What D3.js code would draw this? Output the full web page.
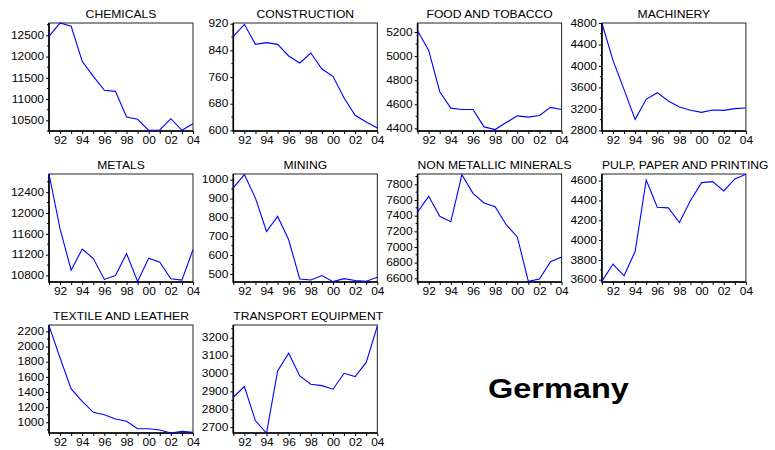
<!DOCTYPE html>
<html>
<head>
<meta charset="utf-8">
<script src="https://cdn.jsdelivr.net/npm/d3@7/dist/d3.min.js"></script>
<style>
  html, body { margin: 0; padding: 0; background: #fff; }
  svg { display: block; }
  text { font-family: "Liberation Sans", Arial, Helvetica, sans-serif; fill: #000; }
</style>
</head>
<body>
<svg id="chart" width="775" height="450"></svg>
<script>
// Years on the horizontal axis
const years = [1991, 1992, 1993, 1994, 1995, 1996, 1997, 1998, 1999, 2000, 2001, 2002, 2003, 2004];
const xTickLabels = ["92", "94", "96", "98", "00", "02", "04"];

// Sector titles, in panel order
const sectors = [
  "CHEMICALS", "CONSTRUCTION", "FOOD AND TOBACCO", "MACHINERY",
  "METALS", "MINING", "NON METALLIC MINERALS", "PULP, PAPER AND PRINTING",
  "TEXTILE AND LEATHER", "TRANSPORT EQUIPMENT"
];

// Series, one value per year
const chemicals    = [12476, 12790, 12712, 11888, 11535, 11206, 11182, 10578, 10524, 10265, 10273, 10539, 10265, 10420];
const construction = [882, 918, 858, 863, 858, 823, 802, 832, 784, 762, 697, 645, 625, 607];
const foodTobacco  = [5211, 5047, 4704, 4568, 4557, 4557, 4412, 4390, 4448, 4504, 4493, 4507, 4574, 4557];
const machinery    = [4800, 4104, 3558, 3005, 3378, 3502, 3347, 3235, 3173, 3136, 3180, 3173, 3204, 3217];
const metals       = [12750, 11694, 10902, 11308, 11124, 10724, 10800, 11219, 10685, 11130, 11055, 10737, 10711, 11296];
const mining       = [956, 1027, 902, 725, 805, 681, 473, 468, 491, 459, 475, 465, 461, 482];
const nonMetallic  = [7447, 7647, 7391, 7323, 7923, 7685, 7562, 7515, 7285, 7128, 6562, 6591, 6813, 6872];
const pulpPaper    = [3583, 3758, 3640, 3885, 4607, 4332, 4325, 4177, 4399, 4580, 4590, 4496, 4617, 4664];
const textile      = [2275, 1848, 1440, 1277, 1132, 1101, 1044, 1013, 916, 916, 899, 859, 881, 868];
const transport    = [2867, 2927, 2735, 2667, 3014, 3113, 2986, 2940, 2932, 2912, 3001, 2983, 3062, 3265];

// Vertical axis ranges and labelled ticks per panel
const yRanges = [
  [10249, 12790], [598, 922], [4378, 5275], [2788, 4800],
  [10674, 12750], [457, 1030], [6553, 7932], [3577, 4667],
  [859, 2284], [2667, 3271]
];
const yTicks = [
  [10500, 11000, 11500, 12000, 12500],
  [600, 680, 760, 840, 920],
  [4400, 4600, 4800, 5000, 5200],
  [2800, 3200, 3600, 4000, 4400, 4800],
  [10800, 11200, 11600, 12000, 12400],
  [500, 600, 700, 800, 900, 1000],
  [6600, 6800, 7000, 7200, 7400, 7600, 7800],
  [3600, 3800, 4000, 4200, 4400, 4600],
  [1000, 1200, 1400, 1600, 1800, 2000, 2200],
  [2700, 2800, 2900, 3000, 3100, 3200]
];
const countryName = "Germany";

const series = [chemicals, construction, foodTobacco, machinery, metals,
                mining, nonMetallic, pulpPaper, textile, transport];

// Layout of the 4-column grid of small panels
const layout = { left: 49, top: 23, width: 144, height: 108, colStep: 184.3, rowStep: 151, cols: 4 };
const stretchX = 1.19; // horizontal widening of the lettering

const svg = d3.select("#chart");

function widen(sel, k) {
  sel.each(function () {
    const len = this.getComputedTextLength();
    d3.select(this).attr("textLength", len * k).attr("lengthAdjust", "spacingAndGlyphs");
  });
}

series.forEach((values, i) => {
  const col = i % layout.cols, row = Math.floor(i / layout.cols);
  const x0 = layout.left + col * layout.colStep;
  const y0 = layout.top + row * layout.rowStep;
  const w = layout.width, h = layout.height;

  const g = svg.append("g").attr("transform", `translate(${x0},${y0})`);

  const x = d3.scaleLinear().domain([years[0], years[years.length - 1]]).range([0, w]);
  const y = d3.scaleLinear().domain(yRanges[i]).range([h, 0]);

  // Minor y ticks halfway between labelled ones
  const ticks = yTicks[i];
  const step = ticks[1] - ticks[0];
  const minor = [];
  for (let v = ticks[0] - step / 2; v <= yRanges[i][1]; v += step) {
    if (v >= yRanges[i][0]) minor.push(v);
  }

  const yAxis = g.append("g").call(
    d3.axisLeft(y).tickValues(ticks).tickSize(3).tickPadding(2).tickFormat(d3.format("d"))
  );
  yAxis.select(".domain").remove();
  yAxis.selectAll("text").attr("font-size", 10).attr("fill", "#000")
    .attr("font-family", "Liberation Sans, Arial, sans-serif").call(widen, stretchX);
  yAxis.selectAll("line").attr("stroke", "#000");

  g.append("g").selectAll("line").data(minor).join("line")
    .attr("x1", -2).attr("x2", 0)
    .attr("y1", d => y(d)).attr("y2", d => y(d))
    .attr("stroke", "#000");

  // Year ticks below the plot, labels on even years
  const xAxis = g.append("g").attr("transform", `translate(0,${h})`).call(
    d3.axisBottom(x).tickValues(years).tickSize(3).tickPadding(3)
      .tickFormat(d => (d % 2 === 0 ? xTickLabels[(d - 1992) / 2] : ""))
  );
  xAxis.select(".domain").remove();
  xAxis.selectAll("text").attr("font-size", 10).attr("fill", "#000")
    .attr("font-family", "Liberation Sans, Arial, sans-serif")
    .filter(function () { return this.textContent !== ""; }).call(widen, stretchX);
  xAxis.selectAll("line").attr("stroke", "#000");

  // Frame
  g.append("rect").attr("width", w).attr("height", h)
    .attr("fill", "none").attr("stroke", "#222").attr("stroke-width", 1);
  g.append("path").attr("d", `M0,0V${h}H${w}`)
    .attr("fill", "none").attr("stroke", "#000").attr("stroke-width", 1.6);

  // Series line
  const line = d3.line().x((d, j) => x(years[j])).y(d => y(d));
  g.append("path").datum(values).attr("d", line)
    .attr("fill", "none").attr("stroke", "#0000ff").attr("stroke-width", 1.1);

  // Title: centred, or left-aligned when wider than the frame
  const title = g.append("text").attr("y", -5.5).attr("font-size", 10.2).text(sectors[i]);
  const tw = title.node().getComputedTextLength() * stretchX;
  title.attr("textLength", tw).attr("lengthAdjust", "spacingAndGlyphs");
  if (tw > w) title.attr("x", 0);
  else title.attr("x", (w - tw) / 2);
});

const country = svg.append("text")
  .attr("x", 488).attr("y", 398)
  .attr("font-size", 28).attr("font-weight", "bold")
  .text(countryName);
widen(country, 1.16);
</script>
</body>
</html>
